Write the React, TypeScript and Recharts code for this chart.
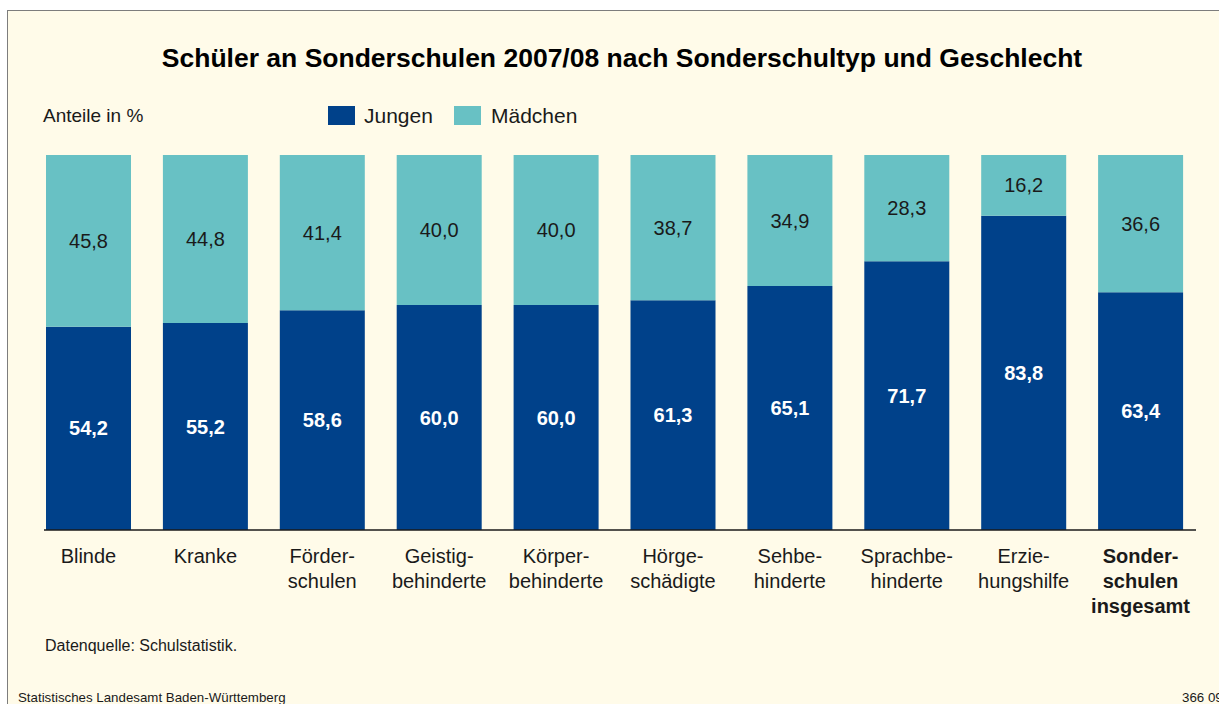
import { BarChart, Bar, XAxis, YAxis, LabelList } from 'recharts';

const categories = [
  'Blinde',
  'Kranke',
  'Förder-\nschulen',
  'Geistig-\nbehinderte',
  'Körper-\nbehinderte',
  'Hörge-\nschädigte',
  'Sehbe-\nhinderte',
  'Sprachbe-\nhinderte',
  'Erzie-\nhungshilfe',
  'Sonder-\nschulen\ninsgesamt',
];
const jungen = [54.2, 55.2, 58.6, 60.0, 60.0, 61.3, 65.1, 71.7, 83.8, 63.4];
const maedchen = [45.8, 44.8, 41.4, 40.0, 40.0, 38.7, 34.9, 28.3, 16.2, 36.6];

const BLUE = '#00418a';
const TEAL = '#68c1c4';
const CREAM = '#fffbe9';
const FONT = '"Liberation Sans", Arial, Helvetica, sans-serif';

const data = categories.map((name, i) => ({ name, jungen: jungen[i], maedchen: maedchen[i] }));

const fmt = (v: unknown) => Number(v).toFixed(1).replace('.', ',');

function CategoryTick(props: any) {
  const { x, y, payload, index } = props;
  const lines = String(payload.value).split('\n');
  const bold = index === categories.length - 1;
  return (
    <text
      x={x}
      y={y}
      textAnchor="middle"
      fontFamily={FONT}
      fontSize={20}
      fontWeight={bold ? 'bold' : 'normal'}
      fill="#1a1a1a"
    >
      {lines.map((l, i) => (
        <tspan key={i} x={x} y={y + 33 + i * 25}>
          {l}
        </tspan>
      ))}
    </text>
  );
}

// top = baseline - 0.8465 * fontSize (line-height 1)
const txt = (baseline: number, fs: number) => baseline - 0.8465 * fs;

export default function App() {
  return (
    <div
      style={{
        position: 'absolute',
        left: 0,
        top: 0,
        width: 1219,
        height: 704,
        background: '#ffffff',
        overflow: 'hidden',
        fontFamily: FONT,
      }}
    >
      <div
        style={{
          position: 'absolute',
          left: 7,
          top: 10,
          right: 0,
          bottom: 0,
          background: CREAM,
          borderTop: '1.5px solid #7d7d7d',
          borderLeft: '1.5px solid #7d7d7d',
        }}
      />
      <div
        style={{
          position: 'absolute',
          left: 0,
          width: 1244,
          top: txt(67, 26.5),
          fontSize: 26.5,
          lineHeight: 1,
          fontWeight: 'bold',
          textAlign: 'center',
          color: '#000',
          whiteSpace: 'nowrap',
        }}
      >
        Schüler an Sonderschulen 2007/08 nach Sonderschultyp und Geschlecht
      </div>
      <div
        style={{ position: 'absolute', left: 43, top: txt(122, 19), fontSize: 19, lineHeight: 1, color: '#1a1a1a' }}
      >
        Anteile in %
      </div>

      {/* legend */}
      <div style={{ position: 'absolute', left: 328, top: 106, width: 27, height: 19, background: BLUE }} />
      <div style={{ position: 'absolute', left: 364, top: txt(123, 21), fontSize: 21, lineHeight: 1, color: '#1a1a1a' }}>
        Jungen
      </div>
      <div style={{ position: 'absolute', left: 454, top: 106, width: 27, height: 19, background: TEAL }} />
      <div style={{ position: 'absolute', left: 491, top: txt(123, 21), fontSize: 21, lineHeight: 1, color: '#1a1a1a' }}>
        Mädchen
      </div>

      <div style={{ position: 'absolute', left: 0, top: 0 }}>
        <BarChart
          width={1219}
          height={704}
          data={data}
          margin={{ top: 155, right: 23, bottom: 74, left: 44 }}
        >
          <YAxis hide domain={[0, 100]} />
          <XAxis
            dataKey="name"
            height={100}
            interval={0}
            padding={{ left: -14, right: -3 }}
            axisLine={{ stroke: '#1a1a1a', strokeWidth: 1.5 }}
            tickLine={false}
            tickSize={0}
            tickMargin={0}
            tick={<CategoryTick />}
          />
          <Bar dataKey="jungen" stackId="a" fill={BLUE} barSize={85} isAnimationActive={false}>
            <LabelList
              dataKey="jungen"
              position="center"
              formatter={fmt}
              fill="#ffffff"
              fontFamily={FONT}
              fontSize={20}
              fontWeight="bold"
            />
          </Bar>
          <Bar dataKey="maedchen" stackId="a" fill={TEAL} barSize={85} isAnimationActive={false}>
            <LabelList
              dataKey="maedchen"
              position="center"
              formatter={fmt}
              fill="#1a1a1a"
              fontFamily={FONT}
              fontSize={20}
            />
          </Bar>
        </BarChart>
      </div>

      <div style={{ position: 'absolute', left: 45, top: txt(652, 16), fontSize: 16, lineHeight: 1, color: '#1a1a1a' }}>
        Datenquelle: Schulstatistik.
      </div>
      <div style={{ position: 'absolute', left: 18, top: txt(702, 13.3), fontSize: 13.3, lineHeight: 1, color: '#1a1a1a', whiteSpace: 'nowrap' }}>
        Statistisches Landesamt Baden-Württemberg
      </div>
      <div style={{ position: 'absolute', left: 1182, top: txt(702, 13.3), fontSize: 13.3, lineHeight: 1, color: '#1a1a1a', whiteSpace: 'nowrap' }}>
        366 09
      </div>
    </div>
  );
}
